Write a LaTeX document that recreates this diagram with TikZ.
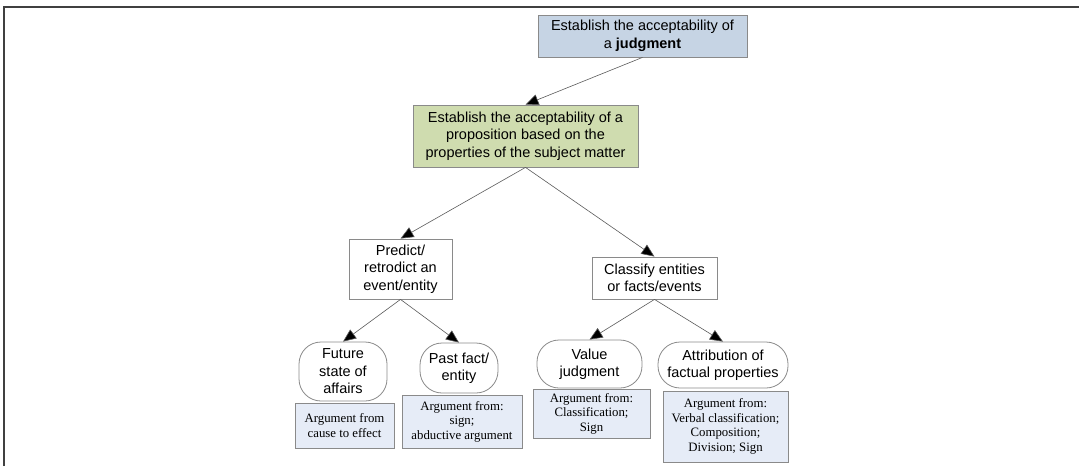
\documentclass[tikz,border=0pt]{standalone}
\usepackage{fontspec}
\setmainfont{Liberation Sans}
\newfontfamily\argfont{Liberation Serif}
\usetikzlibrary{arrows.meta}

\definecolor{goalblue}{HTML}{C6D4E4}
\definecolor{propgreen}{HTML}{CFDCAF}
\definecolor{argblue}{HTML}{E6ECF7}
\definecolor{edgegrey}{HTML}{8A8A8A}
\definecolor{linkgrey}{HTML}{5A5A5A}

\tikzset{
  base/.style={draw=edgegrey, line width=0.8pt, inner sep=0pt, align=center,
    font=\fontsize{14.5}{17.5}\selectfont},
  goalbox/.style={base, fill=goalblue},
  propbox/.style={base, fill=propgreen},
  taskbox/.style={base, fill=white},
  kindbox/.style={base, fill=white, rounded corners=22pt},
  argbox/.style={draw=edgegrey, line width=0.8pt, inner sep=0pt, align=center,
    fill=argblue, font=\argfont\fontsize{12.8}{14.5}\selectfont},
  link/.style={draw=linkgrey, line width=0.6pt,
    -{Triangle[length=13pt,width=11pt,fill=black]}},
}

\begin{document}
\begin{tikzpicture}[x=1pt,y=-1pt]
  \useasboundingbox (0,0) rectangle (1079,466);

  % frame edges
  \draw[line width=1.6pt, draw=black!75] (4,466) -- (4,7) -- (1079,7);

  % goal and proposition
  \node[goalbox, minimum width=209pt, minimum height=42pt] (goal) at (642.5,36)
    {Establish the acceptability of\\a \textbf{judgment}};
  \node[propbox, minimum width=225pt, minimum height=62pt] (prop) at (525.5,136)
    {Establish the acceptability of a\\proposition based on the\\properties of the subject matter};

  % tasks
  \node[taskbox, minimum width=103pt, minimum height=60pt] (predict) at (400.5,269)
    {Predict/\\retrodict an\\event/entity};
  \node[taskbox, minimum width=125pt, minimum height=42pt] (classify) at (654.5,278)
    {Classify entities\\or facts/events};

  % kinds of claims
  \node[kindbox, minimum width=88pt, minimum height=59pt] (future) at (343,371.5)
    {Future\\state of\\affairs};
  \node[kindbox, minimum width=78pt, minimum height=50pt] (past) at (459,368)
    {Past fact/\\entity};
  \node[kindbox, minimum width=105pt, minimum height=48pt] (value) at (589.5,364)
    {Value\\judgment};
  \node[kindbox, minimum width=130pt, minimum height=46pt] (attrib) at (723,365)
    {Attribution of\\factual properties};

  % argument schemes
  \node[argbox, minimum width=99pt, minimum height=45pt] (argfuture) at (344.5,425.5)
    {Argument from\\cause to effect};
  \node[argbox, minimum width=120pt, minimum height=53pt] (argpast) at (462,421.5)
    {Argument from:\\sign;\\abductive argument};
  \node[argbox, minimum width=117pt, minimum height=49pt] (argvalue) at (591.5,413.5)
    {Argument from:\\Classification;\\Sign};
  \node[argbox, minimum width=125pt, minimum height=71pt] (argattrib) at (725.5,426.5)
    {Argument from:\\Verbal classification;\\Composition;\\Division; Sign};

  % connectors
  \draw[link] (goal.south) -- (prop.north);
  \draw[link] (prop.south) -- (predict.north);
  \draw[link] (prop.south) -- (classify.north);
  \draw[link] (predict.south) -- (future.north);
  \draw[link] (predict.south) -- (past.north);
  \draw[link] (classify.south) -- (value.north);
  \draw[link] (classify.south) -- (attrib.north);
\end{tikzpicture}
\end{document}
